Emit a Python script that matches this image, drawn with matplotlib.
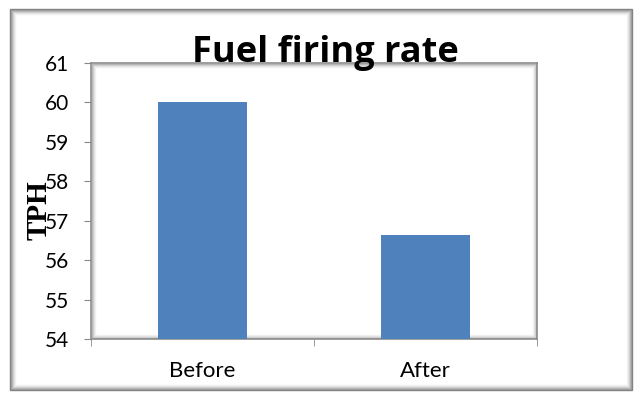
import matplotlib
matplotlib.use("Agg")
import matplotlib.pyplot as plt
from matplotlib.patches import Rectangle

categories = ["Before", "After"]
values = [60.0, 56.65]
yticks = [54, 55, 56, 57, 58, 59, 60, 61]
title = "Fuel firing rate"
ylabel = "TPH"

W, H = 642, 400
fig = plt.figure(figsize=(W / 100, H / 100), dpi=100)
fig.patch.set_facecolor("white")

# outer chart frame with soft shadow
for i, g in enumerate([0.5, 0.6, 0.7, 0.8, 0.88, 0.94]):
    fig.add_artist(Rectangle(((10 + i) / W, (10 + i) / H), (622 - 2 * i) / W, (381 - 2 * i) / H,
                             transform=fig.transFigure, fill=False,
                             edgecolor=str(g), linewidth=1.0))

ax = fig.add_axes([91 / W, 61 / H, 446 / W, 276 / H])
x = list(range(len(categories)))
ax.bar(x, values, width=0.4, color="#4F81BD", zorder=3)
ax.set_xlim(-0.5, len(categories) - 0.5)
ax.set_ylim(54, 61)
ax.set_yticks(yticks)
ax.set_yticklabels([str(t) for t in yticks], fontsize=15, family="Lato")
ax.set_xticks(x)
ax.set_xticklabels(categories, fontsize=16, family="Lato")
ax.set_xticks([-0.5, 0.5, 1.5], minor=True)
ax.tick_params(axis="x", which="major", length=0, pad=16)
ax.tick_params(axis="x", which="minor", length=5, color="#888888", direction="out")
ax.tick_params(axis="y", length=5, color="#888888", direction="out", pad=11)
for s in ax.spines.values():
    s.set_color("#8c8c8c")
    s.set_linewidth(1.2)

# inner shadow of plot area
for i, g in enumerate([0.7, 0.8, 0.88, 0.94]):
    ax.add_artist(Rectangle(((1 + i) / 446, (1 + i) / 276), (444 - 2 * i) / 446, (274 - 2 * i) / 276,
                            transform=ax.transAxes, fill=False, edgecolor=str(g),
                            linewidth=1.0, zorder=2))

fig.text(325 / W, 1 - 62 / H, title, fontsize=26, fontweight="bold", family="Open Sans",
         ha="center", va="baseline")
fig.text(39 / W, 1 - 210 / H, ylabel, fontsize=21, fontweight="bold", family="Liberation Serif",
         rotation=90, ha="center", va="center")

fig.savefig("out.png", dpi=100)
